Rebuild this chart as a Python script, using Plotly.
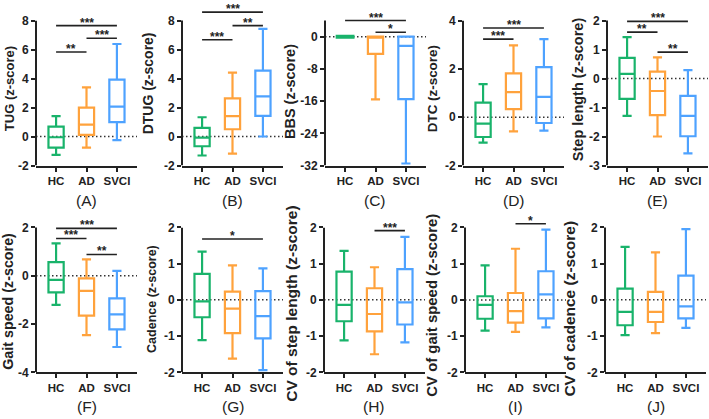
import plotly.graph_objects as go

groups = ["HC", "AD", "SVCI"]
colors = ["#19b36b", "#ffa23c", "#4ea2ff"]

# rows: lower whisker, Q1, median, Q3, upper whisker ; columns: HC, AD, SVCI
TUG = [[-1.27, -0.76, -0.25], [-0.76, 0.11, 0.99], [-0.05, 0.82, 2.06], [0.68, 1.99, 3.92], [1.41, 3.39, 6.38]]
DTUG = [[-1.31, -1.18, 0.00], [-0.67, 0.50, 1.42], [-0.07, 1.41, 2.77], [0.59, 2.63, 4.54], [1.33, 4.41, 7.42]]
BBS = [[0.0, -15.6, -31.5], [0.0, -4.3, -15.5], [0.0, 0.0, -2.3], [0.0, 0.0, 0.0], [0.0, 0.0, 0.0]]
DTC = [[-1.05, -0.59, -0.56], [-0.82, 0.33, -0.24], [-0.27, 1.04, 0.84], [0.60, 1.81, 2.07], [1.37, 2.97, 3.23]]
STEP = [[-1.29, -2.00, -2.58], [-0.70, -1.26, -1.99], [0.16, -0.43, -1.29], [0.71, 0.24, -0.60], [1.43, 0.73, 0.29]]
GAIT = [[-1.21, -2.46, -2.95], [-0.69, -1.65, -2.22], [-0.17, -0.63, -1.60], [0.56, -0.11, -0.94], [1.34, 0.68, 0.20]]
CAD = [[-1.11, -1.62, -1.94], [-0.48, -0.92, -1.06], [-0.04, -0.24, -0.45], [0.72, 0.23, 0.24], [1.33, 0.95, 0.87]]
CV_STEP = [[-1.12, -1.50, -1.17], [-0.59, -0.87, -0.68], [-0.14, -0.39, -0.07], [0.78, 0.32, 0.85], [1.35, 0.90, 1.74]]
CV_GAIT = [[-0.85, -0.88, -0.76], [-0.52, -0.63, -0.51], [-0.14, -0.31, 0.15], [0.10, 0.19, 0.79], [0.95, 1.41, 1.94]]
CV_CAD = [[-0.97, -0.92, -0.77], [-0.70, -0.61, -0.51], [-0.33, -0.33, -0.18], [0.31, 0.22, 0.67], [1.46, 1.31, 1.95]]

# significance bars: (from group, to group, height, label)
TUG_sig = [(0, 1, 5.83, "**"), (1, 2, 6.78, "***"), (0, 2, 7.65, "***")]
DTUG_sig = [(0, 1, 6.67, "***"), (1, 2, 7.65, "**"), (0, 2, 8.58, "***")]
BBS_sig = [(1, 2, 1.1, "*"), (0, 2, 4.0, "***")]
DTC_sig = [(0, 1, 3.23, "***"), (0, 2, 3.69, "***")]
STEP_sig = [(0, 1, 1.60, "**"), (1, 2, 0.91, "**"), (0, 2, 1.97, "***")]
GAIT_sig = [(0, 1, 1.54, "***"), (1, 2, 0.88, "**"), (0, 2, 1.96, "***")]
CAD_sig = [(0, 2, 1.68, "*")]
CV_STEP_sig = [(1, 2, 1.91, "***")]
CV_GAIT_sig = [(1, 2, 2.10, "*")]
CV_CAD_sig = []

titles = ["TUG (z-score)", "DTUG (z-score)", "BBS (z-score)", "DTC (z-score)", "Step length (z-score)",
          "Gait speed (z-score)", "Cadence (z-score)", "CV of step length (z-score)",
          "CV of gait speed (z-score)", "CV of cadence (z-score)"]
letters = ["(A)", "(B)", "(C)", "(D)", "(E)", "(F)", "(G)", "(H)", "(I)", "(J)"]
ticks = [[-2, 0, 2, 4, 6, 8], [-2, 0, 2, 4, 6, 8], [-32, -24, -16, -8, 0], [-2, 0, 2, 4],
         [-3, -2, -1, 0, 1, 2], [-4, -2, 0, 2], [-2, -1, 0, 1, 2], [-2, -1, 0, 1, 2],
         [-2, -1, 0, 1, 2], [-2, -1, 0, 1, 2]]
yranges = [[-2, 8], [-2, 8], [-32, 4], [-2, 4], [-3, 2], [-4, 2], [-2, 2], [-2, 2], [-2, 2], [-2, 2]]

stats = [TUG, DTUG, BBS, DTC, STEP, GAIT, CAD, CV_STEP, CV_GAIT, CV_CAD]
sigs = [TUG_sig, DTUG_sig, BBS_sig, DTC_sig, STEP_sig, GAIT_sig, CAD_sig, CV_STEP_sig, CV_GAIT_sig, CV_CAD_sig]

# ---- layout geometry (pixels) ----
FW, FH = 709, 419
lefts = [36, 182, 325, 463, 607, 36, 182, 324, 465, 605]
PW = 101
tops = [14] * 5 + [228] * 5
bottoms = [164] * 5 + [378] * 5
title_pos = [(9, 85), (148, 79), (290, 88), (432, 85), (578, 85),
             (8, 305), (152, 302), (292, 307), (432, 309), (570, 312)]
title_size = [13, 14, 14.5, 13.4, 14.5, 14.3, 12.5, 15.5, 14.9, 15.5]
letter_y = [200] * 5 + [413] * 5

FONT = "Liberation Sans"
fig = go.Figure()
layout = dict(width=FW, height=FH, margin=dict(l=0, r=0, t=0, b=0),
              paper_bgcolor="white", plot_bgcolor="white", showlegend=False)
shapes = []
annotations = []

for i in range(10):
    n = i + 1
    xa = "x" if n == 1 else f"x{n}"
    ya = "y" if n == 1 else f"y{n}"
    s = stats[i]
    ymin, ytop = yranges[i]
    ppu = (bottoms[i] - tops[i]) / (ytop - ymin)
    sig_max = max([v for (_, _, v, _) in sigs[i]], default=ytop)
    yext = max(ytop, sig_max + 1.5 / ppu)
    top_px = bottoms[i] - (yext - ymin) * ppu

    for k in range(3):
        flat = s[1][k] == s[3][k]
        fig.add_trace(go.Box(
            x=[k], lowerfence=[s[0][k]], q1=[s[1][k]], median=[s[2][k]], q3=[s[3][k]],
            upperfence=[s[4][k]], width=0.5 if not flat else 0.62, whiskerwidth=0.6,
            line=dict(color=colors[k], width=4 if flat else 2.2),
            fillcolor="rgba(255,255,255,0)", boxpoints=False, hoverinfo="skip",
            xaxis=xa, yaxis=ya, showlegend=False))

    for (a, b, v, lab) in sigs[i]:
        fig.add_trace(go.Scatter(x=[a, b], y=[v, v], mode="lines",
                                 line=dict(color="#222222", width=1.6),
                                 hoverinfo="skip", xaxis=xa, yaxis=ya, showlegend=False))
        annotations.append(dict(x=(a + b) / 2, y=v, xref=xa, yref=ya, text=lab, showarrow=False,
                                yanchor="bottom", yshift=-6,
                                font=dict(family=FONT, size=12, color="#222222", weight="bold")))

    xd = [lefts[i] / FW, (lefts[i] + PW) / FW]
    yd = [1 - bottoms[i] / FH, 1 - top_px / FH]
    layout["xaxis" if n == 1 else f"xaxis{n}"] = dict(
        domain=xd, anchor=ya, range=[-0.66, 2.66], tickvals=[0, 1, 2], ticktext=groups,
        showline=True, linecolor="#222222", linewidth=2, ticks="outside", ticklen=4, tickwidth=2,
        tickcolor="#222222", showgrid=False, zeroline=False,
        tickfont=dict(family=FONT, size=11.5, color="#222222", weight="bold"))
    layout["yaxis" if n == 1 else f"yaxis{n}"] = dict(
        domain=yd, anchor=xa, range=[ymin, yext], tickvals=ticks[i], ticktext=[str(t) for t in ticks[i]],
        showline=False, ticks="outside", ticklen=4, tickwidth=2, tickcolor="#222222",
        showgrid=False, zeroline=False,
        tickfont=dict(family=FONT, size=12, color="#222222", weight="bold"))

    # y axis line (only up to visual top)
    shapes.append(dict(type="line", xref=f"{xa} domain", yref=ya, x0=0, x1=0, y0=ymin, y1=ytop,
                       line=dict(color="#222222", width=2)))
    # dotted zero reference line
    shapes.append(dict(type="line", xref=f"{xa} domain", yref=ya, x0=0, x1=1, y0=0, y1=0,
                       layer="below", line=dict(color="#333333", width=1.5, dash="1.5px,2.5px")))

    tx, ty = title_pos[i]
    annotations.append(dict(x=tx / FW, y=1 - ty / FH, xref="paper", yref="paper", text=titles[i],
                            textangle=-90, showarrow=False, xanchor="center", yanchor="middle",
                            font=dict(family=FONT, size=title_size[i], color="#222222", weight="bold")))
    annotations.append(dict(x=(lefts[i] + 50.5) / FW, y=1 - letter_y[i] / FH, xref="paper", yref="paper",
                            text=letters[i], showarrow=False, xanchor="center", yanchor="middle",
                            font=dict(family=FONT, size=15.5, color="#222222")))

layout["shapes"] = shapes
layout["annotations"] = annotations
fig.update_layout(**layout)
fig.write_html("out.html", config={"displayModeBar": False},
               post_script="document.body.style.margin='0';document.body.style.overflow='hidden';")
